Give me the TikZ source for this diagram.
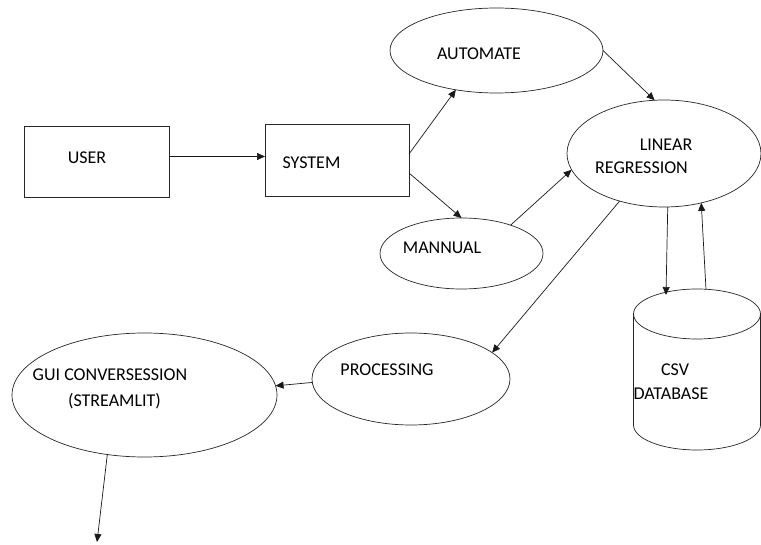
\documentclass[tikz,border=0pt]{standalone}
\usepackage{fontspec}
\setmainfont{Carlito}
\usetikzlibrary{arrows.meta,shapes.geometric}

\tikzset{
  box/.style={draw=black!85, line width=0.8pt, rectangle, inner sep=0pt, outer sep=0pt},
  ell/.style={draw=black!85, line width=0.7pt, ellipse, inner sep=0pt, outer sep=0pt},
  outline/.style={draw=black!85, line width=0.7pt},
  lbl/.style={anchor=base, inner sep=0pt, font=\fontsize{18}{22}\selectfont},
  arr/.style={-{Triangle[length=8pt,width=7pt]}, line width=0.7pt, draw=black!90}
}

\begin{document}
\begin{tikzpicture}[x=1pt,y=-1pt]
\useasboundingbox[fill=white] (0,0) rectangle (761,545);

% shapes
\node[box, minimum width=145pt, minimum height=71pt] (user) at (96.5,161.5) {};
\node[box, minimum width=144pt, minimum height=72pt] (sys) at (337,160) {};
\node[ell, minimum width=213pt, minimum height=85pt] (auto) at (496.5,50.5) {};
\node[ell, minimum width=194pt, minimum height=107pt] (lr) at (664,153.5) {};
\node[ell, minimum width=163pt, minimum height=71pt] (man) at (461.5,253.5) {};
\node[ell, minimum width=198pt, minimum height=92pt] (proc) at (411,379) {};
\node[ell, minimum width=265pt, minimum height=124pt] (gui) at (144.5,395) {};

% database drum: body between the centres of its two end ellipses
\node[rectangle, inner sep=0pt, outer sep=0pt, minimum width=127pt, minimum height=111pt] (db) at (697,369.5) {};
\draw[outline] (db.north west) -- (db.south west)
  arc[start angle=180, end angle=360, x radius=63.5pt, y radius=25pt]
  -- (db.north east)
  arc[start angle=0, end angle=360, x radius=63.5pt, y radius=25pt];
\coordinate (dbin) at (666,295);
\coordinate (dbout) at (706,289.5);

% labels
\node[lbl] (userT) at (87,164) {USER};
\node[lbl] (sysT) at (311.5,169) {SYSTEM};
\node[lbl] (autoT) at (479,60) {AUTOMATE};
\node[lbl] (lrT1) at (666,151) {LINEAR};
\node[lbl] (lrT2) at (641.5,174) {REGRESSION};
\node[lbl] (manT) at (442,254) {MANNUAL};
\node[lbl] (procT) at (387,376) {PROCESSING};
\node[lbl] (guiT1) at (110,381) {GUI CONVERSESSION};
\node[lbl] (guiT2) at (114.5,407) {(STREAMLIT)};
\node[lbl] (dbT1) at (675,376) {CSV};
\node[lbl] (dbT2) at (671,400) {DATABASE};

\coordinate (out) at (97,542);

% connectors
\draw[arr] ([yshift=5pt]user.east) -- ([yshift=5pt]user.east -| sys.west);
\draw[arr] ([yshift=6pt]sys.east) -- (auto.-136);
\draw[arr] ([yshift=-13pt]sys.east) -- (man.north);
\draw[arr] (auto.east) -- (lr.100);
\draw[arr] (man.30) -- (lr.-170);
\draw[arr] (lr.-133) -- (proc.18);
\draw[arr] (proc.182) -- (gui.4);
\draw[arr] (lr.-86) -- (dbin);
\draw[arr] (dbout) -- (lr.-53);
\draw[arr] (gui.-122) -- (out);
\end{tikzpicture}
\end{document}
